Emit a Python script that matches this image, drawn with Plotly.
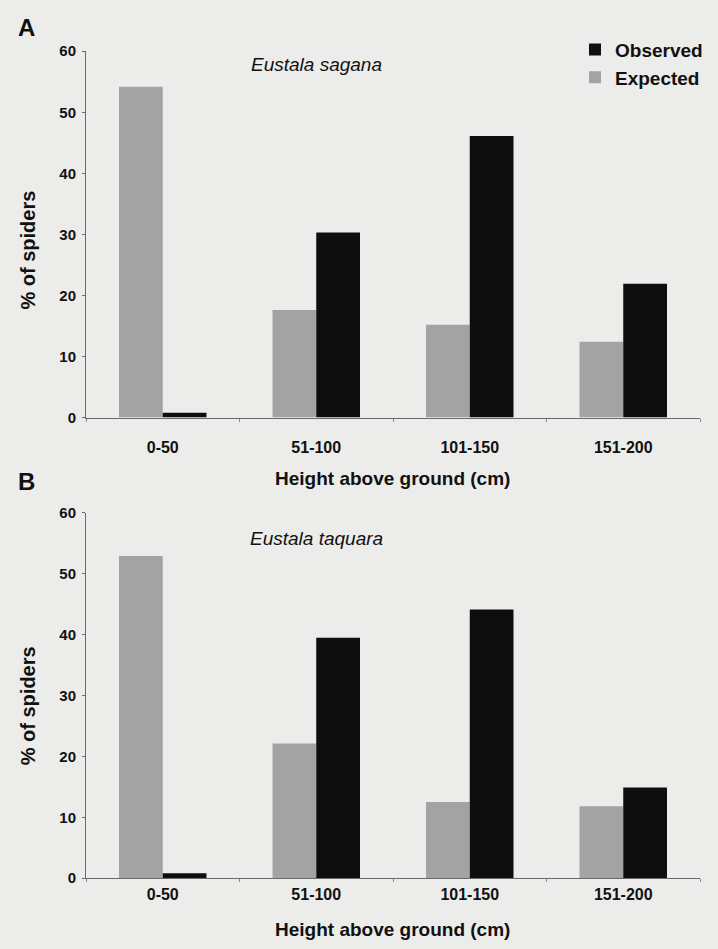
import plotly.graph_objects as go

categories = ["0-50", "51-100", "101-150", "151-200"]
sagana_expected = [54.2, 17.6, 15.2, 12.4]
sagana_observed = [0.8, 30.3, 46.1, 21.9]
taquara_expected = [52.9, 22.1, 12.5, 11.8]
taquara_observed = [0.8, 39.5, 44.1, 14.9]
y_ticks = [0, 10, 20, 30, 40, 50, 60]

W, H = 718, 949
BG = "#ececea"
GRAY = "#a3a3a3"
BLACK = "#0e0e0e"
FONT = "Liberation Sans, Arial, sans-serif"

def px_x(p):
    return p / W

def px_y(p):
    return 1 - p / H

fig = go.Figure()
fig.add_trace(go.Bar(x=categories, y=sagana_expected, name="Expected", marker_color=GRAY,
                     marker_line_width=0, xaxis="x", yaxis="y", legendrank=2))
fig.add_trace(go.Bar(x=categories, y=sagana_observed, name="Observed", marker_color=BLACK,
                     marker_line_width=0, xaxis="x", yaxis="y", legendrank=1))
fig.add_trace(go.Bar(x=categories, y=taquara_expected, name="Expected", marker_color=GRAY,
                     marker_line_width=0, xaxis="x2", yaxis="y2", showlegend=False))
fig.add_trace(go.Bar(x=categories, y=taquara_observed, name="Observed", marker_color=BLACK,
                     marker_line_width=0, xaxis="x2", yaxis="y2", showlegend=False))

xdom = [px_x(86), px_x(700)]

def xaxis_cfg(anchor, standoff):
    return dict(domain=xdom, anchor=anchor, type="category", showline=True, linecolor="#6a6a6a",
                linewidth=1, ticks="outside", ticklen=3, tickcolor="#8a8a8a", tickson="boundaries",
                showgrid=False, zeroline=False,
                tickfont=dict(family=FONT, size=16, color="#111", weight="bold"),
                ticklabelstandoff=standoff)

def yaxis_cfg(anchor, dom):
    return dict(domain=dom, anchor=anchor, range=[0, 60], tickvals=y_ticks, showline=True,
                linecolor="#6a6a6a", linewidth=1, ticks="outside", ticklen=3, tickcolor="#6a6a6a",
                showgrid=False, zeroline=False,
                tickfont=dict(family=FONT, size=15, color="#111", weight="bold"),
                ticklabelstandoff=3)

fig.update_layout(
    width=W, height=H,
    margin=dict(l=0, r=0, t=0, b=0),
    paper_bgcolor=BG, plot_bgcolor=BG,
    barmode="group", bargap=0.43, bargroupgap=0,
    xaxis=xaxis_cfg("y", 15),
    yaxis=yaxis_cfg("x", [px_y(416), px_y(43)]),
    xaxis2=xaxis_cfg("y2", 2),
    yaxis2=yaxis_cfg("x2", [px_y(885), px_y(513)]),
    legend=dict(x=px_x(575), y=px_y(22), xanchor="left", yanchor="top",
                font=dict(family=FONT, size=19, color="#111", weight="bold"),
                bgcolor="rgba(0,0,0,0)", itemwidth=30, tracegroupgap=0),
    showlegend=True,
)

title_font = dict(family=FONT, size=19, color="#111")
ann = []
ann.append(dict(text="<b>A</b>", x=px_x(16), y=px_y(19), xref="paper", yref="paper",
                xanchor="left", yanchor="middle", showarrow=False,
                font=dict(family=FONT, size=24, color="#111")))
ann.append(dict(text="<b>B</b>", x=px_x(16), y=px_y(481), xref="paper", yref="paper",
                xanchor="left", yanchor="middle", showarrow=False,
                font=dict(family=FONT, size=24, color="#111")))
for yc in (478, 937):
    ann.append(dict(text="<b>Height above ground (cm)</b>", x=px_x(392), y=px_y(yc),
                    xref="paper", yref="paper", xanchor="center", yanchor="middle",
                    showarrow=False, font=title_font))
for yc in (246, 710):
    ann.append(dict(text="<b>% of spiders</b>", x=px_x(28), y=px_y(yc), textangle=-90,
                    xref="paper", yref="paper", xanchor="center", yanchor="middle",
                    showarrow=False, font=dict(family=FONT, size=20, color="#111")))
ann.append(dict(text="<i>Eustala sagana</i>", x=px_x(316), y=px_y(57), xref="paper", yref="paper",
                xanchor="center", yanchor="middle", showarrow=False,
                font=dict(family=FONT, size=19, color="#111")))
ann.append(dict(text="<i>Eustala taquara</i>", x=px_x(316), y=px_y(539), xref="paper", yref="paper",
                xanchor="center", yanchor="middle", showarrow=False,
                font=dict(family=FONT, size=19, color="#111")))
fig.update_layout(annotations=ann)

fig.write_html("out.html", config={"displayModeBar": False},
               post_script="document.body.style.margin='0';document.body.style.overflow='hidden';")
